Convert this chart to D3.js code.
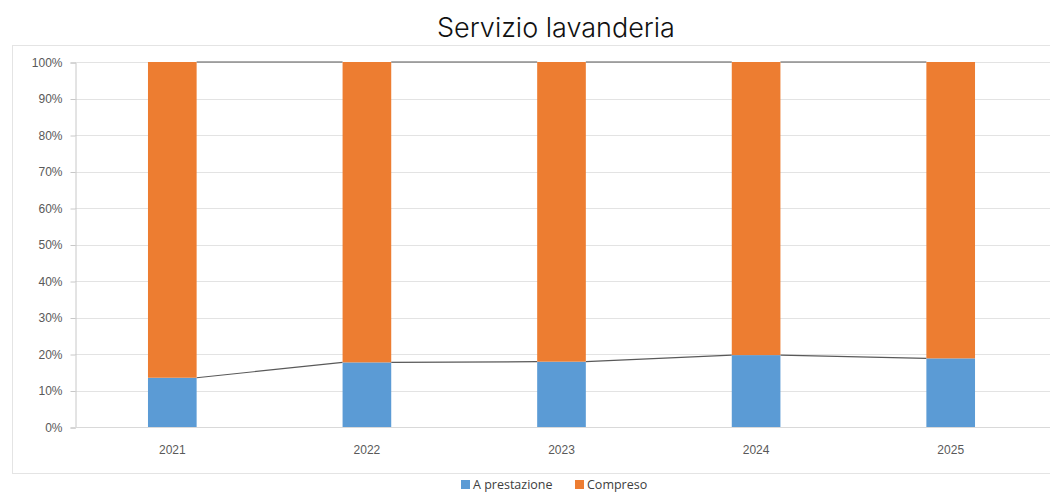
<!DOCTYPE html>
<html>
<head>
<meta charset="utf-8">
<script src="https://cdn.jsdelivr.net/npm/d3@7"></script>
<style>
  body { margin: 0; background: #fff; }
  svg { display: block; }
  .tick text { fill: #595959; font-family: "Liberation Sans", sans-serif; font-size: 12px; }
</style>
</head>
<body>
<svg id="chart" width="1050" height="492"></svg>
<script>
// data
var years = ["2021", "2022", "2023", "2024", "2025"];
var aPrestazione = [0.135, 0.177, 0.179, 0.197, 0.188];
var compreso = [0.865, 0.823, 0.821, 0.803, 0.812];
var seriesNames = ["A prestazione", "Compreso"];
var yTicks = [0, 0.1, 0.2, 0.3, 0.4, 0.5, 0.6, 0.7, 0.8, 0.9, 1];

var colors = ["#5b9bd5", "#ed7d31"];

var width = 1050, height = 492;
var plotLeft = 75, plotTop = 62, plotBottom = 427, plotRight = 1048;

var svg = d3.select("#chart");

// chart area border
svg.append("rect")
    .attr("x", 12.5).attr("y", 45.5)
    .attr("width", 1050).attr("height", 428)
    .attr("fill", "none")
    .attr("stroke", "#e4e4e4");

svg.append("text")
    .attr("x", 556).attr("y", 37)
    .attr("text-anchor", "middle")
    .style("font-family", "Inter, sans-serif")
    .style("font-weight", 300)
    .style("font-size", "27px")
    .style("fill", "#111")
    .text("Servizio lavanderia");

var x = d3.scaleBand()
    .domain(years)
    .range([plotLeft, plotRight])
    .paddingInner(0.75)
    .paddingOuter(0.375);

var y = d3.scaleLinear()
    .domain([0, 1])
    .range([plotBottom, plotTop]);

// gridlines
svg.append("g")
  .selectAll("line")
    .data(yTicks.slice(1))
  .enter().append("line")
    .attr("x1", plotLeft).attr("x2", width)
    .attr("y1", function(d) { return Math.round(y(d)) + 0.5; })
    .attr("y2", function(d) { return Math.round(y(d)) + 0.5; })
    .attr("stroke", "#e3e3e3");

var yAxis = svg.append("g")
    .attr("transform", "translate(" + (plotLeft + 0.5) + ",0.5)")
    .call(d3.axisLeft(y).tickValues(yTicks).tickFormat(d3.format(".0%")).tickSize(5).tickPadding(8));
yAxis.select(".domain").attr("stroke", "#c8c8c8");
yAxis.selectAll(".tick line").attr("stroke", "#c8c8c8");

var xAxis = svg.append("g")
    .attr("transform", "translate(0," + (plotBottom + 0.5) + ")")
    .call(d3.axisBottom(x).tickSize(0).tickPadding(18));
xAxis.select(".domain").attr("stroke", "#d9d9d9").attr("d", "M" + plotLeft + ",0H" + width);

// stacked data
var table = years.map(function(yr, i) {
  return { year: yr, a: aPrestazione[i], c: compreso[i] };
});
var stack = d3.stack().keys(["a", "c"])(table);

// series lines
var seriesLine = svg.append("g");
stack.forEach(function(layer) {
  for (var i = 0; i < layer.length - 1; i++) {
    seriesLine.append("line")
        .attr("x1", x(years[i]) + x.bandwidth())
        .attr("y1", y(layer[i][1]))
        .attr("x2", x(years[i + 1]))
        .attr("y2", y(layer[i + 1][1]))
        .attr("stroke", "#595959")
        .attr("stroke-width", 1.2);
  }
});

svg.append("g")
  .selectAll("g")
    .data(stack)
  .enter().append("g")
    .attr("fill", function(d, i) { return colors[i]; })
  .selectAll("rect")
    .data(function(d) { return d; })
  .enter().append("rect")
    .attr("x", function(d) { return x(d.data.year); })
    .attr("y", function(d) { return y(d[1]); })
    .attr("width", x.bandwidth())
    .attr("height", function(d) { return y(d[0]) - y(d[1]); });

// legend
var legend = svg.append("g")
    .attr("transform", "translate(461,480)");
var legendX = [0, 114];
seriesNames.forEach(function(name, i) {
  var g = legend.append("g").attr("transform", "translate(" + legendX[i] + ",0)");
  g.append("rect")
      .attr("width", 9).attr("height", 9)
      .attr("fill", colors[i]);
  g.append("text")
      .attr("x", 12).attr("y", 9)
      .style("font-family", "'Open Sans', sans-serif")
      .style("font-size", "12.5px")
      .style("fill", "#404040")
      .text(name);
});
</script>
</body>
</html>
